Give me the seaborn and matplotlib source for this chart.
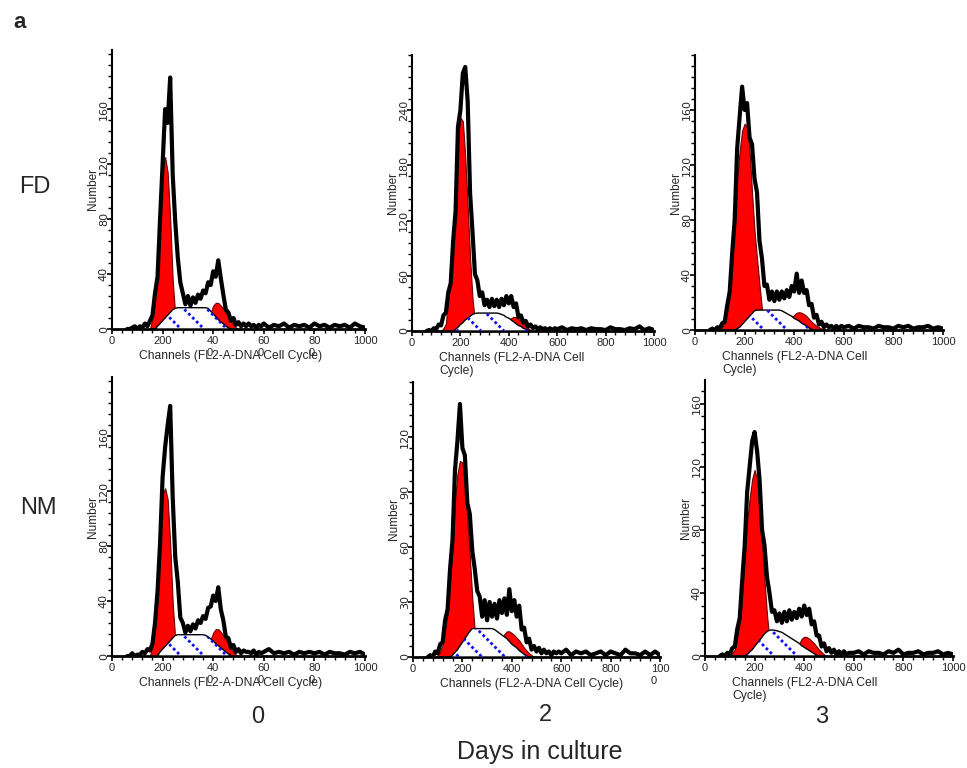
import numpy as np
import matplotlib
matplotlib.use("Agg")
import matplotlib.pyplot as plt
from matplotlib.ticker import MultipleLocator
import seaborn as sns

# channel grid: step 10 over the peaks, step 20 over the flat tail
MAIN_CH = np.arange(60, 600, 10)
TAIL_CH = np.arange(600, 1001, 20)
CHANNELS = np.concatenate([MAIN_CH, TAIL_CH])

PANELS = ["FD0", "FD2", "FD3", "NM0", "NM2", "NM3"]

# raw histogram (black outline), 54 main values + 21 tail values
FD0_COUNTS = [0, 0, 1, 2, 0, 2, 1, 4, 2, 6,
              10, 26, 38, 80, 120, 160, 150, 183, 112, 78,
              52, 34, 26, 18, 24, 17, 23, 19, 25, 22,
              28, 26, 34, 32, 42, 38, 50, 37, 25, 14,
              12, 6, 8, 3, 5, 2, 4, 2, 4, 2,
              3, 1, 3, 2,
              4, 1, 3, 2, 4, 1, 3, 2, 3, 1, 4, 2, 3, 1, 3, 2, 3, 1, 4, 2, 1]
FD2_COUNTS = [0, 1, 0, 3, 2, 7, 6, 17, 20, 42,
              52, 98, 130, 222, 240, 280, 287, 250, 150, 108,
              62, 55, 38, 42, 28, 34, 26, 35, 27, 34,
              26, 35, 28, 38, 30, 38, 26, 30, 15, 17,
              9, 11, 5, 7, 3, 5, 2, 4, 2, 3,
              1, 3, 1, 3,
              2, 4, 1, 3, 2, 3, 1, 3, 2, 2, 1, 4, 2, 2, 1, 3, 2, 5, 1, 3, 1]
FD3_COUNTS = [0, 1, 0, 2, 1, 5, 6, 18, 28, 56,
              80, 132, 155, 177, 160, 165, 140, 135, 110, 100,
              65, 52, 32, 33, 22, 28, 21, 28, 22, 28,
              23, 29, 24, 32, 28, 41, 27, 36, 27, 29,
              18, 19, 9, 11, 4, 6, 2, 4, 2, 3,
              1, 3, 1, 3,
              2, 3, 1, 3, 2, 2, 1, 3, 2, 2, 1, 3, 2, 3, 1, 2, 2, 3, 1, 2, 1]
NM0_COUNTS = [0, 0, 2, 0, 1, 1, 3, 2, 5, 4,
              9, 24, 47, 82, 130, 152, 168, 182, 115, 72,
              54, 28, 24, 17, 22, 18, 23, 20, 26, 24,
              29, 27, 35, 36, 44, 40, 50, 34, 26, 14,
              13, 6, 8, 3, 5, 2, 4, 3, 3, 2,
              4, 1, 3, 2,
              3, 5, 2, 3, 2, 3, 1, 3, 2, 3, 2, 3, 1, 3, 2, 2, 1, 3, 2, 3, 1]
NM2_COUNTS = [0, 1, 0, 3, 2, 7, 8, 20, 26, 48,
              64, 102, 118, 138, 114, 110, 84, 78, 58, 48,
              36, 33, 22, 31, 20, 30, 22, 29, 21, 31,
              24, 32, 23, 37, 25, 31, 22, 28, 15, 16,
              8, 10, 4, 6, 3, 5, 2, 4, 2, 3,
              1, 3, 2, 3,
              2, 4, 1, 3, 2, 3, 1, 2, 3, 1, 3, 2, 1, 4, 2, 2, 1, 3, 1, 3, 1]
NM3_COUNTS = [0, 1, 0, 2, 1, 5, 6, 17, 24, 48,
              70, 104, 120, 136, 142, 130, 112, 80, 70, 50,
              40, 28, 29, 22, 27, 21, 28, 22, 29, 23,
              28, 24, 30, 25, 32, 26, 30, 20, 22, 13,
              13, 6, 8, 3, 5, 2, 4, 1, 3, 1,
              3, 1, 2, 2,
              2, 3, 1, 3, 2, 2, 1, 3, 2, 4, 1, 2, 2, 3, 1, 2, 2, 3, 1, 2, 1]

# fitted components, 10-channel steps from the start channel
G1_START = [150, 120, 100, 150, 90, 100]
FD0_G1 = [0, 8, 22, 38, 76, 115, 125, 114, 80, 35, 10, 0]
FD2_G1 = [0, 3, 8, 38, 50, 95, 128, 205, 232, 228, 190, 135, 80, 35, 10, 0]
FD3_G1 = [0, 2, 5, 14, 26, 48, 76, 110, 130, 145, 150, 148, 130, 100, 72, 52, 33, 15, 5, 0]
NM0_G1 = [0, 8, 22, 42, 78, 118, 122, 114, 82, 38, 12, 0]
NM2_G1 = [0, 1, 3, 7, 15, 24, 42, 60, 85, 100, 107, 106, 94, 75, 55, 32, 14, 4, 0]
NM3_G1 = [0, 2, 4, 12, 22, 40, 62, 85, 100, 112, 118, 112, 92, 70, 48, 26, 10, 3, 0]

S_START = [170, 170, 160, 180, 150, 160]
FD0_S = [0, 2, 4, 6, 8, 10, 12, 14, 15, 15.5, 15.5, 15.5, 15.5, 15.5, 15.5, 15.5,
         15.5, 15.5, 15.5, 15.5, 15.5, 15, 13, 11, 9, 7, 5, 4, 2, 1, 0]
FD2_S = [0, 2, 4, 7, 9, 12, 14, 16, 18, 19, 19.5, 19.5, 19.5, 19.5, 19.5, 19.5,
         19.5, 19.5, 19.5, 19, 18, 17, 15, 14, 12, 10, 8, 6, 5, 3, 2, 1, 0]
FD3_S = [0, 1, 2, 4, 6, 8, 10, 12, 14, 14.5, 14.5, 14.5, 14.5, 14.5, 14.5, 14.5,
         14.5, 14.5, 14.5, 14, 13, 12, 11, 10, 8.5, 7.5, 6.5, 5, 4, 3, 1.5, 0.5, 0]
NM0_S = [0, 3, 5, 7, 9, 11, 13, 15, 15.5, 15.5, 15.5, 15.5, 15.5, 15.5, 15.5,
         15.5, 15.5, 15.5, 15.5, 15, 14, 12.5, 11, 9, 7.5, 6, 4.5, 3, 1.5, 0.5, 0]
NM2_S = [0, 1, 2.5, 4, 6, 8, 10, 12, 14, 15.5, 15.5, 15.5, 15.5, 15.5, 15.5, 15.5,
         15.5, 15.5, 15, 14, 13, 12, 11, 10, 8.5, 7, 6, 5, 3.5, 2.5, 1.5, 0.5, 0]
NM3_S = [0, 1, 2.5, 4, 6, 8, 10, 12, 14, 15.5, 16.3, 16.5, 16.3, 16, 15.5, 15,
         14, 13, 12, 11, 10, 9, 8, 6.5, 5.5, 4.5, 3.5, 2.5, 1.5, 0.5, 0]

G2_START = [370, 370, 370, 370, 340, 360]
FD0_G2 = [0, 5, 12, 17, 19, 19, 17, 15, 12, 9, 6, 3, 1, 0]
FD2_G2 = [0, 4, 8, 12, 14, 15.5, 15, 13, 11, 8, 5, 3, 1, 0]
FD3_G2 = [0, 6, 9, 11, 12.5, 13, 12.5, 11.5, 10, 8, 6, 4.5, 3, 2, 1, 0]
NM0_G2 = [0, 5, 12, 17, 19.5, 19.5, 17.5, 15, 12, 9, 6, 3, 1, 0]
NM2_G2 = [0, 5, 10, 12.5, 14, 14, 13, 12, 10.5, 9, 7, 5, 3.5, 2, 1, 0]
NM3_G2 = [0, 4, 8, 11, 12.2, 12, 11, 9.5, 8, 6, 4, 2.5, 1, 0]

# axis scales and tick labels
Y_MAX = [203, 300, 200, 203, 150, 175]
Y_STEP = [40, 60, 40, 40, 30, 40]
X_TICKS = [0, 200, 400, 600, 800, 1000]
X_LABELS = [["0", "200", "40\n0", "60\n0", "80\n0", "1000"],
            ["0", "200", "400", "600", "800", "1000"],
            ["0", "200", "400", "600", "800", "1000"],
            ["0", "200", "40\n0", "60\n0", "80\n0", "1000"],
            ["0", "200", "400", "600", "800", "100\n0"],
            ["0", "200", "400", "600", "800", "1000"]]
X_TITLES = ["Channels (FL2-A-DNA Cell Cycle)",
            "Channels (FL2-A-DNA Cell\nCycle)",
            "Channels (FL2-A-DNA Cell\nCycle)",
            "Channels (FL2-A-DNA Cell Cycle)",
            "Channels (FL2-A-DNA Cell Cycle)",
            "Channels (FL2-A-DNA Cell\nCycle)"]
ROW_LABELS = ["FD", "NM"]
DAY_LABELS = ["0", "2", "3"]

DATA = {
    "FD0": (FD0_COUNTS, FD0_G1, FD0_S, FD0_G2),
    "FD2": (FD2_COUNTS, FD2_G1, FD2_S, FD2_G2),
    "FD3": (FD3_COUNTS, FD3_G1, FD3_S, FD3_G2),
    "NM0": (NM0_COUNTS, NM0_G1, NM0_S, NM0_G2),
    "NM2": (NM2_COUNTS, NM2_G1, NM2_S, NM2_G2),
    "NM3": (NM3_COUNTS, NM3_G1, NM3_S, NM3_G2),
}

# panel boxes in pixels: left, right, baseline y, top y
BOXES = [(112, 365, 329, 50), (412, 654, 331, 55), (695, 943, 330, 55),
         (112, 365, 656, 377), (413, 660, 657, 382), (705, 953, 656, 380)]

W, H = 967, 768
RED = "#ff0000"
BLUE = "#1010ff"

sns.set_theme(style="ticks")
plt.rcParams["font.family"] = ["Liberation Sans", "DejaVu Sans"]

fig = plt.figure(figsize=(W / 100, H / 100), dpi=100)


def comp_x(start, vals):
    return start + 10 * np.arange(len(vals))


for i, name in enumerate(PANELS):
    left, right, base, top = BOXES[i]
    w_px, h_px = right - left, base - top
    ax = fig.add_axes([left / W, 1 - base / H, w_px / W, h_px / H])
    counts, g1, s, g2 = DATA[name]
    ymax = Y_MAX[i]

    # G1 and G2 peaks (red)
    ax.fill_between(comp_x(G1_START[i], g1), 0, g1, color=RED,
                    edgecolor="#6b0000", lw=0.8, zorder=2)
    ax.fill_between(comp_x(G2_START[i], g2), 0, g2, color=RED,
                    edgecolor="#6b0000", lw=0.8, zorder=2)

    # S phase: white with blue dotted diagonals
    sx = comp_x(S_START[i], s)
    poly = ax.fill(np.r_[sx, sx[0]], np.r_[s, 0], facecolor="white",
                   edgecolor="black", lw=1.0, zorder=3)[0]
    ppx, ppy = w_px / 1000.0, h_px / ymax
    run = 40 * ppy / ppx
    for x0 in np.arange(0, 1200, 23 / ppx):
        ln, = ax.plot([x0 - run, x0], [40, 0], color=BLUE, lw=2.0,
                      ls=(0, (1, 1)), zorder=3.5)
        ln.set_clip_path(poly)

    # raw histogram outline
    sns.lineplot(x=CHANNELS, y=counts, ax=ax, color="black", linewidth=3.0,
                 estimator=None, sort=False, zorder=5)

    ax.set_xlim(0, 1000)
    ax.set_ylim(0, ymax)
    ax.set_xlabel("")
    ax.set_ylabel("")

    ax.set_xticks(X_TICKS)
    ax.set_xticklabels(X_LABELS[i])
    for lab in ax.get_xticklabels():
        lab.set_multialignment("left")
    ax.xaxis.set_minor_locator(MultipleLocator(40))
    yt = np.arange(0, ymax - 5, Y_STEP[i])
    ax.set_yticks(yt)
    ax.set_yticklabels([str(v) for v in yt], rotation=90, va="center",
                       family="DejaVu Sans")
    ax.yaxis.set_minor_locator(MultipleLocator(Y_STEP[i] / 5))
    ax.tick_params(which="major", direction="out", length=3.5, width=1.2,
                   labelsize=8, pad=1.5, color="black")
    ax.tick_params(axis="y", which="major", pad=-1.2)
    ax.tick_params(which="minor", direction="out", length=2.6, width=1.0,
                   color="black")

    sns.despine(ax=ax)
    ax.spines["bottom"].set_linewidth(2.0)
    ax.spines["left"].set_linewidth(1.5)
    ax.spines["bottom"].set_color("black")
    ax.spines["left"].set_color("black")

    ax.text(27 / w_px, -21 / h_px, X_TITLES[i], transform=ax.transAxes,
            ha="left", va="top", fontsize=8.7, linespacing=1.15)
    ax.text(-19 / w_px, 0.5, "Number", transform=ax.transAxes, rotation=90,
            ha="center", va="center", fontsize=8.5)

fig.text(20 / W, 1 - 22 / H, "a", ha="center", va="center",
         fontsize=16, weight="bold")
fig.text(35 / W, 1 - 187 / H, ROW_LABELS[0], ha="center", va="center", fontsize=17)
fig.text(38 / W, 1 - 508 / H, ROW_LABELS[1], ha="center", va="center", fontsize=17)
for xp, yp, lab in zip([258, 545, 822], [717, 715, 717], DAY_LABELS):
    fig.text(xp / W, 1 - yp / H, lab, ha="center", va="center", fontsize=17)
fig.text(540 / W, 1 - 752 / H, "Days in culture", ha="center", va="center",
         fontsize=18)

fig.savefig("out.png", dpi=100)
plt.close(fig)
